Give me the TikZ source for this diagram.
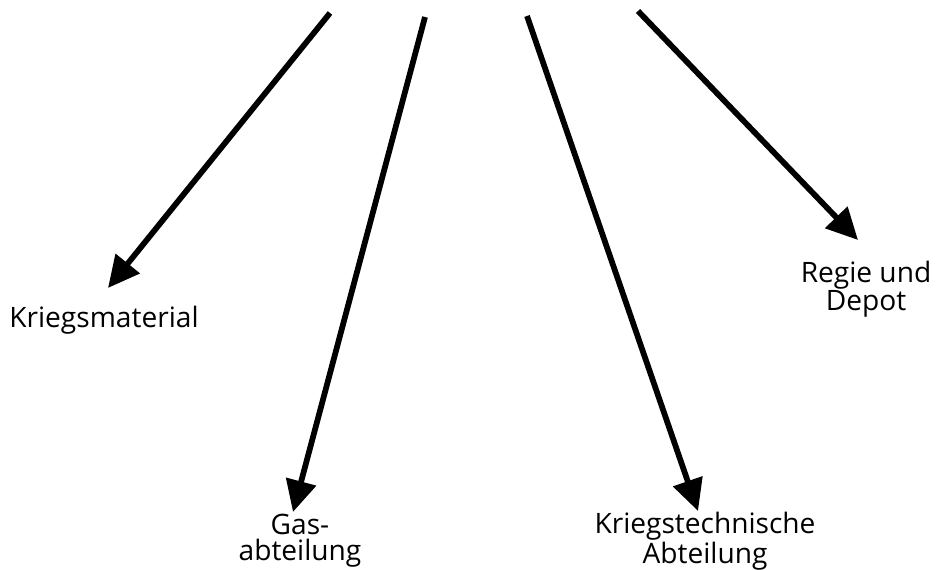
\documentclass[tikz,border=0pt]{standalone}
\usepackage{fontspec}
\setmainfont{Open Sans}
\usetikzlibrary{arrows.meta,positioning}

\begin{document}
\begin{tikzpicture}[x=0.2mm,y=-0.2mm,>={Triangle[length=6.3mm,width=6mm]},
   br/.style={->,line width=1.15mm},
   lab/.style={align=center,inner sep=0pt,font=\fontsize{16}{15}\selectfont}]
  \useasboundingbox (0,0) rectangle (937,569);
  % loose ends at the top
  \coordinate (s1) at (330,13);
  \coordinate (s2) at (425,17);
  \coordinate (s3) at (527,16);
  \coordinate (s4) at (638,11);
  % arrow tips
  \coordinate (t1) at (108,288);
  \coordinate (t2) at (293,512);
  \coordinate (t3) at (698,511);
  \coordinate (t4) at (858,240);
  \node[lab] (km) at (104,320) {Kriegsmaterial};
  \node[lab] (gas) at (300,541) {Gas-\\abteilung};
  \node[lab] (kta) at (705,541) {Kriegstechnische\\Abteilung};
  \node[lab] (rd) at (866,289) {Regie und\\Depot};
  \draw[br] (s1)--(t1);
  \draw[br] (s2)--(t2);
  \draw[br] (s3)--(t3);
  \draw[br] (s4)--(t4);
\end{tikzpicture}
\end{document}
